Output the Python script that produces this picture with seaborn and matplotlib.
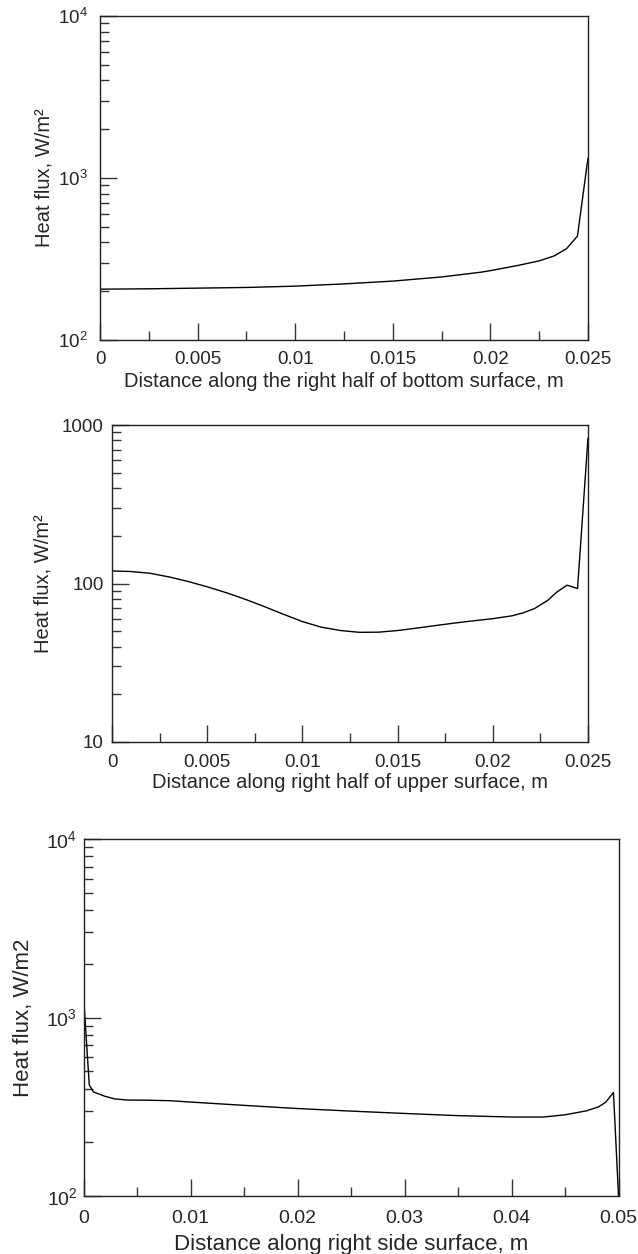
import numpy as np
import pandas as pd
import matplotlib
matplotlib.use("Agg")
import matplotlib.pyplot as plt
import matplotlib.ticker as mticker
import seaborn as sns

# Heat flux along the right half of the bottom surface
bottom_x = [0, 0.0025, 0.005, 0.0075, 0.01, 0.0125, 0.015, 0.0175, 0.0195,
            0.02, 0.0215, 0.0225, 0.02326, 0.0239, 0.02446, 0.025]
bottom_q = [206, 207, 209, 211, 215, 222, 231, 245, 262,
            268, 290, 308, 330, 366, 438, 1330]

# Heat flux along the right half of the upper surface
upper_x = [0, 0.001, 0.002, 0.003, 0.004, 0.005, 0.006, 0.007, 0.008, 0.009,
           0.010, 0.011, 0.012, 0.013, 0.014, 0.015, 0.016, 0.017, 0.018, 0.019,
           0.020, 0.021, 0.0216, 0.0222, 0.0229, 0.02337, 0.0239, 0.02445, 0.025]
upper_q = [120, 119, 116, 110, 103, 95.3, 87.5, 79.5, 71.5, 64,
           57.5, 53, 50.5, 49.2, 49.3, 50.5, 52.3, 54.3, 56.3, 58.2,
           60, 62.5, 65.3, 69.6, 78.5, 88.5, 97.6, 93, 828]

# Heat flux along the right side surface
side_x = [0, 0.00054, 0.00092, 0.002, 0.0029, 0.004, 0.006, 0.008, 0.01, 0.015,
          0.02, 0.025, 0.03, 0.035, 0.04, 0.043, 0.045, 0.047, 0.04814, 0.0488,
          0.04953, 0.05]
side_q = [1330, 419, 383, 362, 350, 345, 344, 342, 336, 322,
          309, 299, 290, 282, 277, 277, 285, 300, 316, 335,
          380, 100]

sns.set_style("white")
plt.rcParams["font.family"] = ["Liberation Sans", "DejaVu Sans"]
plt.rcParams["mathtext.fontset"] = "custom"
plt.rcParams["mathtext.rm"] = "Liberation Sans"
plt.rcParams["mathtext.it"] = "Liberation Sans:italic"
plt.rcParams["mathtext.bf"] = "Liberation Sans:bold"

W, H = 638, 1254
fig = plt.figure(figsize=(W / 100, H / 100), dpi=100)


def axes_px(left, top, right, bottom):
    return fig.add_axes([left / W, 1 - bottom / H, (right - left) / W, (bottom - top) / H])


def style_axes(ax, xmax, xmajor, xminor, ymin, ymax, ylabels, fs, lfs,
               xpad, ypad, ylab_x, xlab_pad):
    ax.set_yscale("log")
    ax.set_xlim(0, xmax)
    ax.set_ylim(ymin, ymax)
    ax.xaxis.set_major_locator(mticker.MultipleLocator(xmajor))
    ax.xaxis.set_minor_locator(mticker.MultipleLocator(xminor))
    ax.xaxis.set_major_formatter(mticker.FuncFormatter(lambda v, p: f"{v:g}"))
    decades = np.arange(np.log10(ymin), np.log10(ymax) + 1)
    ax.yaxis.set_major_locator(mticker.FixedLocator(10.0 ** decades))
    ax.yaxis.set_major_formatter(mticker.FixedFormatter(ylabels))
    ax.yaxis.set_minor_locator(mticker.LogLocator(base=10, subs=np.arange(2, 10)))
    ax.yaxis.set_minor_formatter(mticker.NullFormatter())
    ax.tick_params(which="both", direction="in", bottom=True, left=True,
                   top=False, right=False, color="#333333", width=1.0)
    ax.tick_params(which="major", length=12.5, labelsize=fs)
    ax.tick_params(which="minor", length=6.5)
    ax.tick_params(axis="x", which="major", pad=xpad)
    ax.tick_params(axis="y", which="major", pad=ypad)
    for s in ax.spines.values():
        s.set_linewidth(1.0)
        s.set_color("#222222")
    ax.set_xlabel(ax.get_xlabel(), fontsize=lfs, labelpad=xlab_pad)
    ax.set_ylabel(ax.get_ylabel(), fontsize=lfs)
    ax.yaxis.set_label_coords(ylab_x, 0.5)


# Panel 1: bottom surface
ax1 = axes_px(100, 16, 588, 340)
sns.lineplot(x=bottom_x, y=bottom_q, ax=ax1, color="black", linewidth=1.0, sort=False)
ax1.set_xlabel("Distance along the right half of bottom surface, m")
ax1.set_ylabel("Heat flux, W/m²")
style_axes(ax1, 0.025, 0.005, 0.0025, 1e2, 1e4,
           [r"$10^2$", r"$10^3$", r"$10^4$"], 13.5, 14.5, 8, 9, -0.096, 2.5)

# Panel 2: upper surface
ax2 = axes_px(112, 425, 588, 742)
sns.lineplot(x=upper_x, y=upper_q, ax=ax2, color="black", linewidth=1.0, sort=False)
ax2.set_xlabel("Distance along right half of upper surface, m")
ax2.set_ylabel("Heat flux, W/m²")
style_axes(ax2, 0.025, 0.005, 0.0025, 10, 1000,
           ["10", "100", "1000"], 13.5, 14.5, 8.5, 6, -0.124, 1.8)

# Panel 3: right side surface
ax3 = axes_px(83.5, 839, 618.5, 1196)
sns.lineplot(x=side_x, y=side_q, ax=ax3, color="black", linewidth=1.0, sort=False)
ax3.set_xlabel("Distance along right side surface, m")
ax3.set_ylabel("Heat flux, W/m2")
style_axes(ax3, 0.05, 0.01, 0.005, 1e2, 1e4,
           [r"$10^2$", r"$10^3$", r"$10^4$"], 14, 16, 10, 4.5, -0.0925, 5)

fig.savefig("out.png", dpi=100, facecolor="white")
